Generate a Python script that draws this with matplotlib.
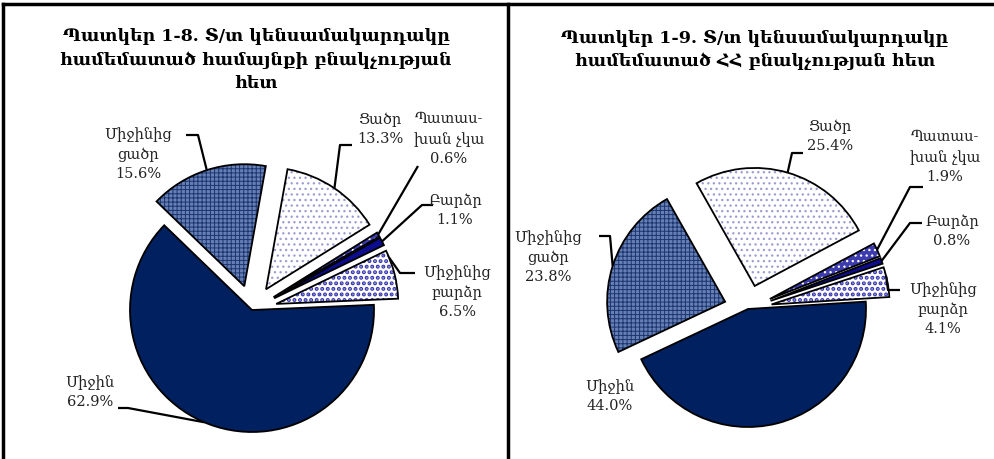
import numpy as np
import matplotlib
matplotlib.use("Agg")
import matplotlib.pyplot as plt

# data
labels = ["Միջինից\nցածր", "Ցածր", "Պատաս-\nխան չկա", "Բարձր", "Միջինից\nբարձր", "Միջին"]
left_vals = [15.6, 13.3, 0.6, 1.1, 6.5, 62.9]
right_vals = [23.8, 25.4, 1.9, 0.8, 4.1, 44.0]
left_title = "Պատկեր 1-8. Տ/տ կենսամակարդակը\nհամեմատած համայնքի բնակչության\nհետ"
right_title = "Պատկեր 1-9. Տ/տ կենսամակարդակը\nհամեմատած ՀՀ բնակչության հետ"

# slice styles: face, hatch, hatch colour, hatch width
faces = ["#6680b4", "white", "#3c3cae", "#0c0c8c", "white", "#012060"]
hatches = ["++++", "...", "...", None, "...", None]
hatch_cols = ["#1c3570", "#9c9cd4", "white", "none", "#3434b0", "none"]
hatch_lws = [0.7, 0.9, 0.9, 0.9, 2.0, 0.9]

W, H = 994, 459
plt.rcParams['font.family'] = ['DejaVu Serif', 'DejaVu Sans']
plt.rcParams['hatch.linewidth'] = 0.9

fig = plt.figure(figsize=(W / 100, H / 100), dpi=100)
ax = fig.add_axes([0, 0, 1, 1])


def P(x, y):
    # image pixel coords -> data coords (y up)
    return x, H - y


def draw_pie(vals, center, r, start, expl):
    c = P(*center)
    common = dict(center=c, radius=r, startangle=start, counterclock=False, explode=expl)
    wedges, _ = ax.pie(vals, colors=faces, wedgeprops=dict(linewidth=0, edgecolor='none'), **common)
    hw, _ = ax.pie(vals, colors=['none'] * len(vals), **common)
    for w, h, hc, hl in zip(hw, hatches, hatch_cols, hatch_lws):
        w.set_facecolor('none')
        w.set_edgecolor(hc)
        w.set_linewidth(0)
        if h:
            w.set_hatch(h)
            if hasattr(w, 'set_hatch_linewidth'):
                w.set_hatch_linewidth(hl)
    ax.pie(vals, colors=['none'] * len(vals), wedgeprops=dict(linewidth=1.3, edgecolor='black'), **common)
    return wedges


def arc_point(w, frac=0.5):
    a = np.deg2rad(w.theta1 + frac * (w.theta2 - w.theta1))
    return w.center[0] + w.r * np.cos(a), w.center[1] + w.r * np.sin(a)


def label(w, text, txt_pos, path, frac=0.5):
    pts = [arc_point(w, frac)] + [P(*p) for p in path]
    xs, ys = zip(*pts)
    ax.plot(xs, ys, color='black', lw=1.6, solid_capstyle='butt')
    ax.text(*P(*txt_pos), text, ha='center', va='center', fontsize=10.5,
            linespacing=1.45, color='#222222')


# left pie
lw_ = draw_pie(left_vals, (252, 310), 122, 136, [25, 25, 25, 25, 25, 0])
lp = [f"{v:.1f}%" for v in left_vals]
label(lw_[0], labels[0] + "\n" + lp[0], (138, 154), [(198, 135), (186, 135)])
label(lw_[1], labels[1] + "\n" + lp[1], (380, 129), [(340, 145), (352, 145)])
label(lw_[2], labels[2] + "\n" + lp[2], (449, 139), [(418, 166)])
label(lw_[3], labels[3] + "\n" + lp[3], (455, 210), [(422, 205), (433, 205)])
label(lw_[4], labels[4] + "\n" + lp[4], (457, 292), [(400, 273), (415, 273)], frac=0.85)
label(lw_[5], labels[5] + "\n" + lp[5], (90, 392), [(128, 408), (118, 408)], frac=0.49)

# right pie
rw_ = draw_pie(right_vals, (748, 309), 118, 205.2, [24, 24, 24, 24, 24, 0])
rp = [f"{v:.1f}%" for v in right_vals]
label(rw_[0], labels[0] + "\n" + rp[0], (548, 257), [(610, 236), (599, 236)], frac=0.5)
label(rw_[1], labels[1] + "\n" + rp[1], (830, 136), [(792, 153), (803, 153)])
label(rw_[2], labels[2] + "\n" + rp[2], (945, 157), [(910, 187), (923, 187)])
label(rw_[3], labels[3] + "\n" + rp[3], (952, 231), [(910, 223), (922, 223)])
label(rw_[4], labels[4] + "\n" + rp[4], (943, 309), [(888, 290), (900, 290)], frac=0.7)
ax.text(*P(610, 396), labels[5] + "\n" + rp[5], ha='center', va='center', fontsize=10.5,
        linespacing=1.45, color='#222222')

# titles
ax.text(*P(256, 60), left_title, ha='center', va='center', fontsize=12.5,
        fontweight='bold', linespacing=1.45)
ax.text(*P(755, 50), right_title, ha='center', va='center', fontsize=12.5,
        fontweight='bold', linespacing=1.45)

# table borders
ax.plot([3, 3], [0, H - 4], color='black', lw=2.5)
ax.plot([508, 508], [0, H - 4], color='black', lw=2.5)
ax.plot([3, W], [H - 4, H - 4], color='black', lw=2.5)

ax.set_xlim(0, W)
ax.set_ylim(0, H)
ax.set_aspect('auto')
ax.axis('off')

fig.savefig("out.png", dpi=100)
